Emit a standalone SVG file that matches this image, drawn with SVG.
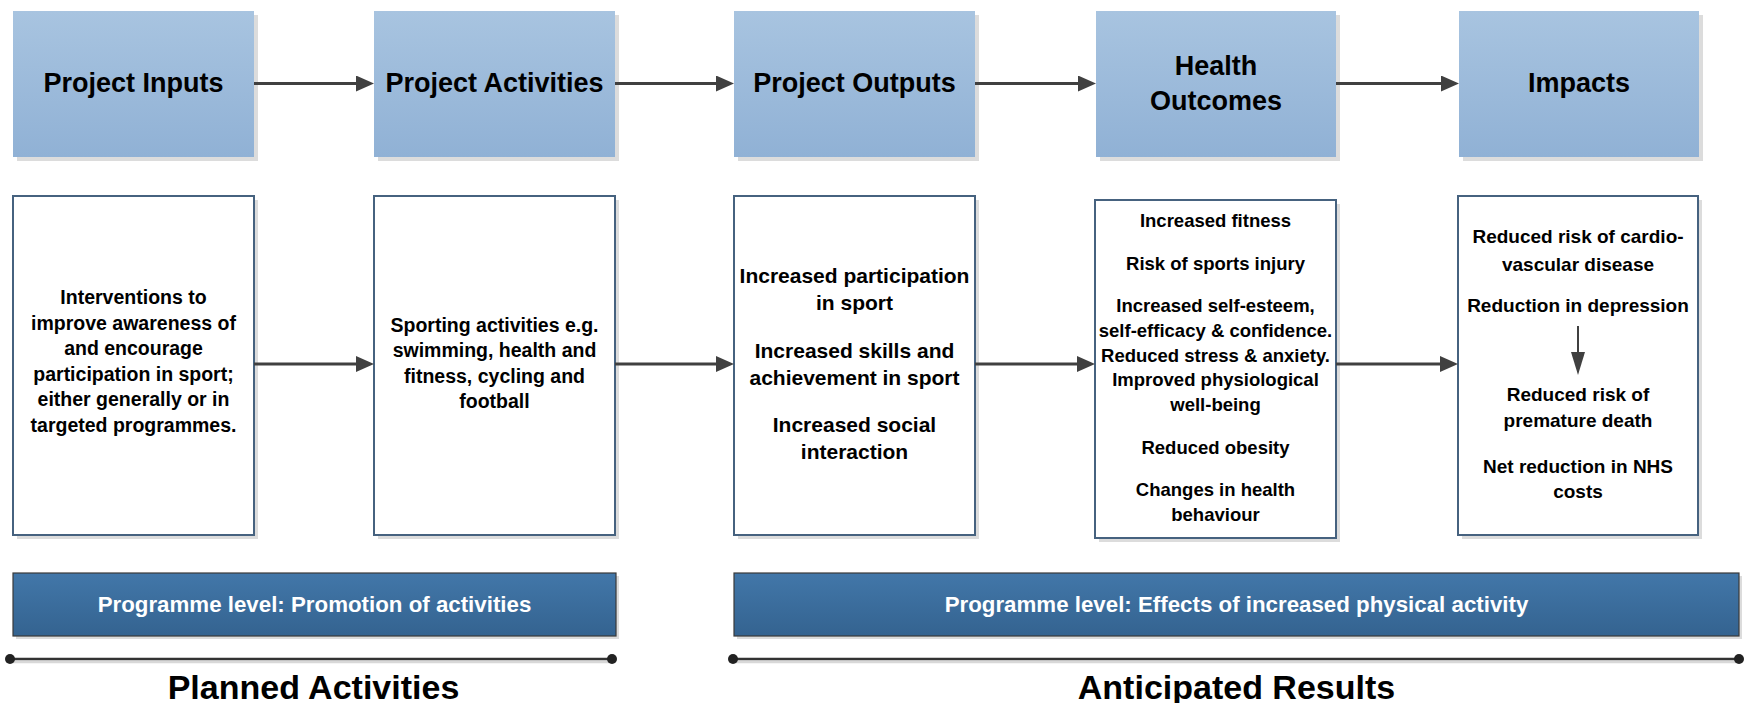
<svg xmlns="http://www.w3.org/2000/svg" width="1747" height="703" viewBox="0 0 1747 703">
  <defs>
    <linearGradient id="gTop" x1="0" y1="0" x2="0" y2="1">
      <stop offset="0" stop-color="#a8c4e0"/>
      <stop offset="1" stop-color="#90b1d5"/>
    </linearGradient>
    <linearGradient id="gBand" x1="0" y1="0" x2="0" y2="1">
      <stop offset="0" stop-color="#4277a9"/>
      <stop offset="1" stop-color="#346390"/>
    </linearGradient>
    <marker id="arr" markerUnits="userSpaceOnUse" markerWidth="18" markerHeight="16" refX="2" refY="8" orient="auto">
      <path d="M0,0 L18,8 L0,16 Z" fill="#404040"/>
    </marker>
    <style>
      .shadow { fill: #dcdcdc; }
      .top { fill: url(#gTop); }
      .box { fill: #ffffff; stroke: #46627f; stroke-width: 2; }
      .band { fill: url(#gBand); stroke: #3a3a3a; stroke-width: 1.2; }
      .conn { stroke: #404040; stroke-width: 3; fill: none; }
      .title { font-family: "Liberation Sans", Arial, sans-serif; font-weight: bold; font-size: 27px; fill: #000; text-anchor: middle; }
      .txt { font-family: "Liberation Sans", Arial, sans-serif; font-weight: bold; fill: #000; text-anchor: middle; }
      .bandtxt { font-family: "Liberation Sans", Arial, sans-serif; font-weight: bold; font-size: 22.3px; fill: #ffffff; text-anchor: middle; }
      .big { font-family: "Liberation Sans", Arial, sans-serif; font-weight: bold; font-size: 34px; fill: #000; text-anchor: middle; }
      .tl { stroke: #333333; stroke-width: 2.5; }
      .tlsh { stroke: #d8d8d8; stroke-width: 2.5; }
    </style>
  </defs>
  <rect width="1747" height="703" fill="#ffffff"/>

  <!-- Top header nodes -->
  <g id="node-project-inputs">
    <rect class="shadow" x="17" y="15" width="241" height="146"/>
    <rect class="top" x="13" y="11" width="241" height="146"/>
    <text class="title" x="133.5" y="92">Project Inputs</text>
  </g>
  <g id="node-project-activities">
    <rect class="shadow" x="378" y="15" width="241" height="146"/>
    <rect class="top" x="374" y="11" width="241" height="146"/>
    <text class="title" x="494.5" y="92">Project Activities</text>
  </g>
  <g id="node-project-outputs">
    <rect class="shadow" x="738" y="15" width="241" height="146"/>
    <rect class="top" x="734" y="11" width="241" height="146"/>
    <text class="title" x="854.5" y="92">Project Outputs</text>
  </g>
  <g id="node-health-outcomes">
    <rect class="shadow" x="1100" y="15" width="240" height="146"/>
    <rect class="top" x="1096" y="11" width="240" height="146"/>
    <text class="title" x="1216" y="75">Health</text>
    <text class="title" x="1216" y="110">Outcomes</text>
  </g>
  <g id="node-impacts">
    <rect class="shadow" x="1463" y="15" width="240" height="146"/>
    <rect class="top" x="1459" y="11" width="240" height="146"/>
    <text class="title" x="1579" y="92">Impacts</text>
  </g>

  <!-- Detail nodes -->
  <g id="node-inputs-detail">
    <rect class="shadow" x="17" y="200" width="241" height="339"/>
    <rect class="box" x="13" y="196" width="241" height="339"/>
    <g class="txt" font-size="19.5">
      <text x="133.5" y="304">Interventions to</text>
      <text x="133.5" y="329.5">improve awareness of</text>
      <text x="133.5" y="355">and encourage</text>
      <text x="133.5" y="380.5">participation in sport;</text>
      <text x="133.5" y="406">either generally or in</text>
      <text x="133.5" y="431.5">targeted programmes.</text>
    </g>
  </g>
  <g id="node-activities-detail">
    <rect class="shadow" x="378" y="200" width="241" height="339"/>
    <rect class="box" x="374" y="196" width="241" height="339"/>
    <g class="txt" font-size="19.5">
      <text x="494.5" y="331.5">Sporting activities e.g.</text>
      <text x="494.5" y="357">swimming, health and</text>
      <text x="494.5" y="382.5">fitness, cycling and</text>
      <text x="494.5" y="408">football</text>
    </g>
  </g>
  <g id="node-outputs-detail">
    <rect class="shadow" x="738" y="200" width="241" height="339"/>
    <rect class="box" x="734" y="196" width="241" height="339"/>
    <g class="txt" font-size="21">
      <text x="854.5" y="283">Increased participation</text>
      <text x="854.5" y="310">in sport</text>
      <text x="854.5" y="358">Increased skills and</text>
      <text x="854.5" y="385">achievement in sport</text>
      <text x="854.5" y="432">Increased social</text>
      <text x="854.5" y="459">interaction</text>
    </g>
  </g>
  <g id="node-outcomes-detail">
    <rect class="shadow" x="1099" y="204" width="241" height="338"/>
    <rect class="box" x="1095" y="200" width="241" height="338"/>
    <g class="txt" font-size="18.5">
      <text x="1215.5" y="227">Increased fitness</text>
      <text x="1215.5" y="270">Risk of sports injury</text>
      <text x="1215.5" y="311.5">Increased self-esteem,</text>
      <text x="1215.5" y="337">self-efficacy &amp; confidence.</text>
      <text x="1215.5" y="362">Reduced stress &amp; anxiety.</text>
      <text x="1215.5" y="386">Improved physiological</text>
      <text x="1215.5" y="411">well-being</text>
      <text x="1215.5" y="454">Reduced obesity</text>
      <text x="1215.5" y="496">Changes in health</text>
      <text x="1215.5" y="520.5">behaviour</text>
    </g>
  </g>
  <g id="node-impacts-detail">
    <rect class="shadow" x="1462" y="200" width="240" height="339"/>
    <rect class="box" x="1458" y="196" width="240" height="339"/>
    <g class="txt" font-size="19">
      <text x="1578" y="242.5">Reduced risk of cardio-</text>
      <text x="1578" y="271">vascular disease</text>
      <text x="1578" y="312">Reduction in depression</text>
      <text x="1578" y="401">Reduced risk of</text>
      <text x="1578" y="427">premature death</text>
      <text x="1578" y="472.5">Net reduction in NHS</text>
      <text x="1578" y="497.5">costs</text>
    </g>
    <line x1="1578" y1="326" x2="1578" y2="354" stroke="#404040" stroke-width="2"/>
    <polygon points="1571,352 1585,352 1578,375" fill="#404040"/>
  </g>

  <!-- Programme level bands -->
  <g id="band-promotion">
    <rect class="shadow" x="16" y="576" width="603" height="63"/>
    <rect class="band" x="13" y="573" width="603" height="63"/>
    <text class="bandtxt" x="314.5" y="611.5">Programme level: Promotion of activities</text>
  </g>
  <g id="band-effects">
    <rect class="shadow" x="737" y="576" width="1005" height="63"/>
    <rect class="band" x="734" y="573" width="1005" height="63"/>
    <text class="bandtxt" x="1236.5" y="611.5">Programme level: Effects of increased physical activity</text>
  </g>

  <!-- Timelines -->
  <g id="timeline-planned">
    <line class="tlsh" x1="11" y1="662" x2="613" y2="662"/>
    <line class="tl" x1="10" y1="659" x2="612" y2="659"/>
    <circle cx="10" cy="659" r="5" fill="#222"/>
    <circle cx="612" cy="659" r="5" fill="#222"/>
    <text class="big" x="313.5" y="699">Planned Activities</text>
  </g>
  <g id="timeline-anticipated">
    <line class="tlsh" x1="734" y1="662" x2="1740" y2="662"/>
    <line class="tl" x1="733" y1="659" x2="1739" y2="659"/>
    <circle cx="733" cy="659" r="5" fill="#222"/>
    <circle cx="1739" cy="659" r="5" fill="#222"/>
    <text class="big" x="1236.5" y="699">Anticipated Results</text>
  </g>

  <!-- Connectors -->
  <g id="connectors">
    <line class="conn" x1="254" y1="83.5" x2="358" y2="83.5" marker-end="url(#arr)"/>
    <line class="conn" x1="615" y1="83.5" x2="718" y2="83.5" marker-end="url(#arr)"/>
    <line class="conn" x1="975" y1="83.5" x2="1080" y2="83.5" marker-end="url(#arr)"/>
    <line class="conn" x1="1336" y1="83.5" x2="1443" y2="83.5" marker-end="url(#arr)"/>
    <line class="conn" x1="254" y1="364" x2="358" y2="364" marker-end="url(#arr)"/>
    <line class="conn" x1="615" y1="364" x2="718" y2="364" marker-end="url(#arr)"/>
    <line class="conn" x1="975" y1="364" x2="1079" y2="364" marker-end="url(#arr)"/>
    <line class="conn" x1="1336" y1="364" x2="1442" y2="364" marker-end="url(#arr)"/>
  </g>
</svg>
